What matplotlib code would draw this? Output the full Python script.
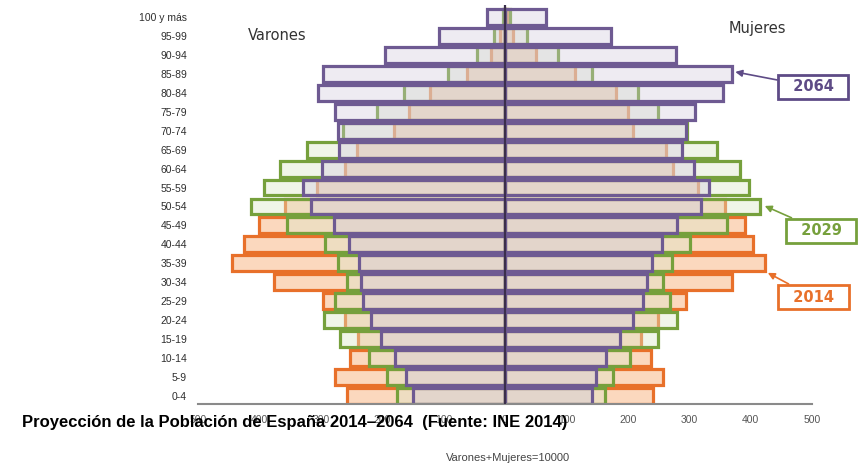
import matplotlib
matplotlib.use('Agg')
import matplotlib.pyplot as plt
import numpy as np

# Grupos de edad (de abajo hacia arriba)
edades = ['0-4', '5-9', '10-14', '15-19', '20-24', '25-29', '30-34', '35-39',
          '40-44', '45-49', '50-54', '55-59', '60-64', '65-69', '70-74',
          '75-79', '80-84', '85-89', '90-94', '95-99', '100 y más']

# Varones (por 10000 habitantes)
varones_2014 = [258, 277, 252, 240, 261, 297, 376, 445, 425, 401, 358,
                306, 261, 241, 181, 156, 122, 62, 23, 8, 1]
varones_2029 = [176, 192, 221, 268, 295, 277, 258, 272, 293, 355, 414,
                392, 366, 322, 264, 208, 164, 93, 46, 18, 3]
varones_2064 = [150, 161, 179, 202, 219, 231, 235, 238, 254, 278, 316,
                329, 298, 270, 272, 277, 305, 296, 195, 107, 29]

# Mujeres
mujeres_2014 = [241, 257, 238, 221, 249, 294, 369, 423, 404, 391, 358,
                314, 274, 262, 209, 200, 181, 114, 50, 13, 3]
mujeres_2029 = [163, 176, 204, 249, 280, 268, 257, 272, 301, 361, 415,
                397, 383, 345, 297, 249, 216, 141, 86, 36, 8]
mujeres_2064 = [141, 149, 164, 187, 209, 224, 231, 239, 255, 280, 319,
                332, 308, 288, 295, 310, 355, 370, 278, 173, 67]

ticks_x = [-500, -400, -300, -200, -100, 0, 100, 200, 300, 400, 500]

narrow = ['Liberation Sans Narrow', 'Liberation Sans', 'DejaVu Sans']

fig = plt.figure(figsize=(8.66, 4.67), dpi=100)
ax = fig.add_axes([198 / 866, 63 / 467, 614 / 866, 399 / 467])

y = np.arange(len(edades))
h = 0.84

series = [
    (varones_2014, mujeres_2014, (0.98, 0.80, 0.66, 0.75), '#E8702A'),
    (varones_2029, mujeres_2029, (0.86, 0.90, 0.78, 0.40), '#76A03C'),
    (varones_2064, mujeres_2064, (0.82, 0.79, 0.87, 0.37), '#6E5A92'),
]
for v, m, fc, ec in series:
    ax.barh(y, -np.array(v), height=h, facecolor=fc, edgecolor=ec, linewidth=2.3)
    ax.barh(y, m, height=h, facecolor=fc, edgecolor=ec, linewidth=2.3)

ax.axvline(0, color='#3B2F4B', linewidth=1.6, zorder=5)

ax.set_xlim(-500, 500)
ax.set_ylim(-0.42, 20.63)
ax.set_xticks(ticks_x)
ax.set_xticklabels([str(abs(t)) for t in ticks_x], family=narrow, fontsize=7.5, color='#555555')
ax.set_yticks(y)
ax.set_yticklabels(edades, family=narrow, fontsize=7.5, color='#2E2E2E')
ax.tick_params(axis='both', length=0)
ax.tick_params(axis='x', pad=8)
ax.tick_params(axis='y', pad=8)
for s in ['top', 'left', 'right']:
    ax.spines[s].set_visible(False)
ax.spines['bottom'].set_color('#8A8A8A')
ax.spines['bottom'].set_linewidth(1.5)

ax.text(-418, 19.0, 'Varones', fontsize=10.5, color='#333333', ha='left', va='center')
ax.text(365, 19.4, 'Mujeres', fontsize=10.5, color='#333333', ha='left', va='center')

# Etiquetas de los años
etiquetas = [
    ('2064', (375, 17.1), (502, 16.31), '#5E4B86'),
    ('2029', (423, 10.03), (515, 8.71), '#76A03C'),
    ('2014', (428, 6.5), (502, 5.22), '#E8702A'),
]
for txt, xy, xytext, c in etiquetas:
    ax.annotate('  ' + txt + '  ', xy=xy, xytext=xytext, textcoords='data',
                ha='center', va='center', fontsize=10.5, fontweight='bold', color=c,
                annotation_clip=False,
                bbox=dict(boxstyle='square,pad=0.32', fc='white', ec=c, lw=2),
                arrowprops=dict(arrowstyle='-|>', color=c, lw=1.2,
                                mutation_scale=10, shrinkA=0, shrinkB=0))

fig.text(22 / 866, 1 - 422 / 467, 'Proyección de la Población de España 2014–2064  (Fuente: INE 2014)',
         family=narrow, fontsize=12, fontweight='bold', color='black', ha='left', va='center')
fig.text(508 / 866, 1 - 458 / 467, 'Varones+Mujeres=10000', family=narrow,
         fontsize=8, color='#444444', ha='center', va='center')

plt.savefig('out.png', dpi=100)
